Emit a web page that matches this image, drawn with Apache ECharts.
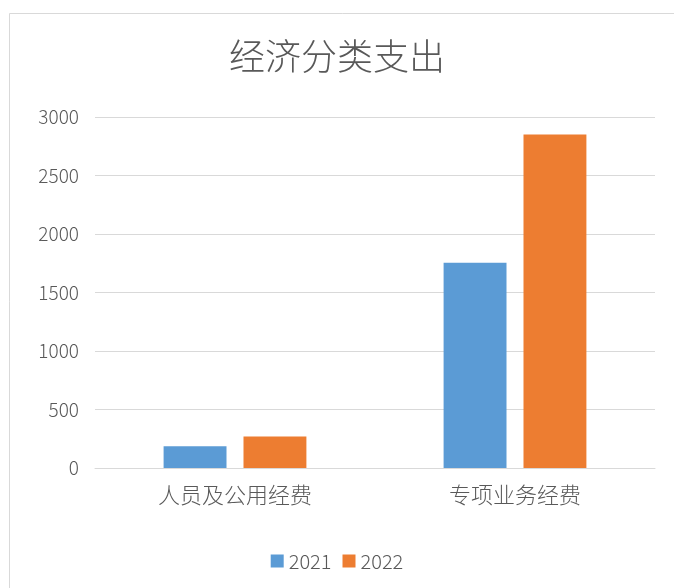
<!DOCTYPE html>
<html>
<head>
<meta charset="utf-8">
<script src="https://cdn.jsdelivr.net/npm/echarts@6/dist/echarts.min.js"></script>
<style>
html,body{margin:0;padding:0;background:#fff;}
#main{width:674px;height:588px;}
</style>
</head>
<body>
<div id="main"></div>
<script>
const categories = ['人员及公用经费', '专项业务经费'];
const seriesNames = ['2021', '2022'];
const values2021 = [185, 1755];
const values2022 = [270, 2850];
const yTicks = [0, 500, 1000, 1500, 2000, 2500, 3000];

const chart = echarts.init(document.getElementById('main'));
const font = '"Noto Sans CJK SC", "Noto Sans", sans-serif';
chart.setOption({
  backgroundColor: '#ffffff',
  animation: false,
  graphic: [{
    type: 'rect',
    shape: {x: 9.5, y: 13.5, width: 700, height: 600},
    style: {fill: 'none', stroke: '#d9d9d9', lineWidth: 1},
    silent: true, z: -1
  }],
  title: {
    text: '经济分类支出',
    left: 'center',
    top: 33,
    textStyle: {fontFamily: font, fontSize: 36, fontWeight: 300, color: '#595959'}
  },
  legend: {
    data: seriesNames,
    top: 546,
    left: 'center',
    itemWidth: 13,
    itemHeight: 13,
    itemGap: 11,
    icon: 'rect',
    textStyle: {fontFamily: font, fontSize: 20, fontWeight: 300, color: '#595959'}
  },
  grid: {left: 95, right: 19, top: 117, bottom: 120, containLabel: false},
  xAxis: {
    type: 'category',
    data: categories,
    axisLine: {lineStyle: {color: '#d9d9d9', width: 1}},
    axisTick: {show: false},
    axisLabel: {fontFamily: font, fontSize: 22, fontWeight: 300, color: '#595959', margin: 16}
  },
  yAxis: {
    type: 'value',
    min: yTicks[0],
    max: yTicks[yTicks.length - 1],
    interval: 500,
    axisLine: {show: false},
    axisTick: {show: false},
    splitLine: {lineStyle: {color: '#d9d9d9', width: 1}},
    axisLabel: {fontFamily: font, fontSize: 19, fontWeight: 300, color: '#595959', margin: 16,
      formatter: function (v) { return String(v); }}
  },
  series: [
    {name: seriesNames[0], type: 'bar', data: values2021, itemStyle: {color: '#5B9BD5'}, barGap: '27%', barCategoryGap: '49%'},
    {name: seriesNames[1], type: 'bar', data: values2022, itemStyle: {color: '#ED7D31'}, barGap: '27%', barCategoryGap: '49%'}
  ]
});
</script>
</body>
</html>
